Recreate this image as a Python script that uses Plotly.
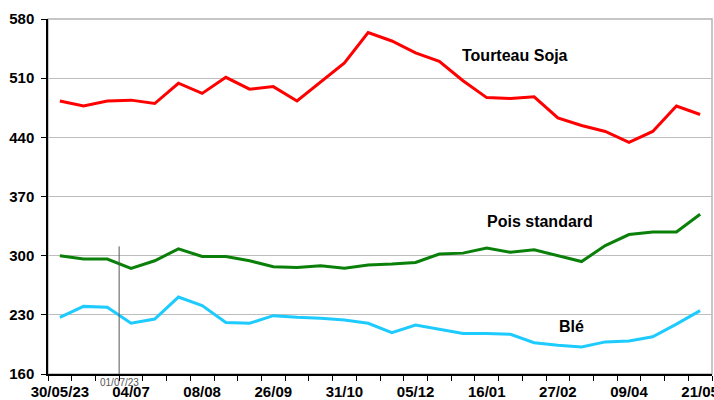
import plotly.graph_objects as go

# category dates (only every third one is labelled on the axis)
dates = ['30/05/23', '13/06', '20/06', '04/07', '18/07', '25/07', '08/08',
         '29/08', '12/09', '26/09', '10/10', '17/10', '31/10', '14/11',
         '21/11', '05/12', '19/12', '02/01', '16/01', '30/01', '13/02',
         '27/02', '12/03', '26/03', '09/04', '23/04', '07/05', '21/05']

tourteau_soja = [483, 477, 483, 484, 480, 504, 492, 511, 497, 500,
                 483, 505, 528, 564, 554, 540, 530, 507, 487, 486,
                 488, 463, 454, 447, 434, 447, 477, 467]

pois_standard = [300, 296, 296, 285, 294, 308, 299, 299, 294, 287,
                 286, 288, 285, 289, 290, 292, 302, 303, 309, 304,
                 307, 300, 293, 312, 325, 328, 328, 349]

ble = [227, 240, 239, 220, 225, 251, 241, 221, 220, 229,
       227, 226, 224, 220, 209, 218, 213, 208, 208, 207,
       197, 194, 192, 198, 199, 204, 219, 235]

y_ticks = [160, 230, 300, 370, 440, 510, 580]

# marker line for 01/07/23 (between 20/06 and 04/07)
marker_pos = 2.5
marker_top = 311

x = list(range(len(dates)))
label_idx = x[::3]

fig = go.Figure()
fig.add_trace(go.Scatter(x=x, y=tourteau_soja, mode='lines', name='Tourteau Soja',
                         line=dict(color='#ff0000', width=3)))
fig.add_trace(go.Scatter(x=x, y=pois_standard, mode='lines', name='Pois standard',
                         line=dict(color='#0a800a', width=3)))
fig.add_trace(go.Scatter(x=x, y=ble, mode='lines', name='Blé',
                         line=dict(color='#1ecbff', width=3)))

# plot-area frame (gray top/right)
fig.add_shape(type='rect', xref='paper', yref='paper', x0=0, x1=1, y0=0, y1=1,
              line=dict(color='#b4b4b4', width=1.5), layer='below')
# vertical date marker
fig.add_shape(type='line', xref='x', yref='y', x0=marker_pos, x1=marker_pos,
              y0=y_ticks[0], y1=marker_top, line=dict(color='#555555', width=1))

label_font = dict(family='Liberation Sans', size=16, color='black')
for txt, px, py in [('Tourteau Soja', 0.703, 0.896),
                    ('Pois standard', 0.741, 0.429),
                    ('Blé', 0.788, 0.133)]:
    fig.add_annotation(text=f'<b>{txt}</b>', xref='paper', yref='paper',
                       x=px, y=py, xanchor='center', yanchor='middle',
                       showarrow=False, font=label_font)
fig.add_annotation(text='01/07/23', xref='x', yref='paper', x=marker_pos, y=0,
                   xanchor='center', yanchor='top', yshift=-1, showarrow=False,
                   font=dict(family='Liberation Sans', size=10, color='#555555'))

tick_font = dict(family='Liberation Sans Narrow, Arial Narrow, Liberation Sans',
                 size=15, color='black', weight='bold')

fig.update_layout(
    width=714, height=400,
    margin=dict(l=48, r=2, t=19, b=26),
    paper_bgcolor='white', plot_bgcolor='white',
    showlegend=False,
    xaxis=dict(range=[-0.5, len(dates) - 0.5], automargin=False,
               tickmode='array', tickvals=label_idx,
               ticktext=[dates[i] for i in label_idx],
               ticks='', showgrid=False, zeroline=False,
               showline=True, linecolor='black', linewidth=1.5,
               tickfont=tick_font, ticklabelstandoff=3,
               ticklabeloverflow='allow',
               minor=dict(ticks='outside', tick0=-0.5, dtick=1, ticklen=5,
                          tickcolor='black', tickwidth=1, showgrid=False)),
    yaxis=dict(range=[y_ticks[0], y_ticks[-1]], tickmode='array', tickvals=y_ticks,
               automargin=False,
               ticks='outside', ticklen=5, tickcolor='black',
               showgrid=True, gridcolor='#bdbdbd', gridwidth=1, zeroline=False,
               showline=True, linecolor='black', linewidth=1.5,
               tickfont=tick_font, ticklabelstandoff=4),
)

# drop the default page margin so the figure sits at the window's corner
fig.write_html('out.html', config={'displayModeBar': False},
               post_script="document.body.style.margin='0';"
                           "document.body.style.overflow='hidden';")
